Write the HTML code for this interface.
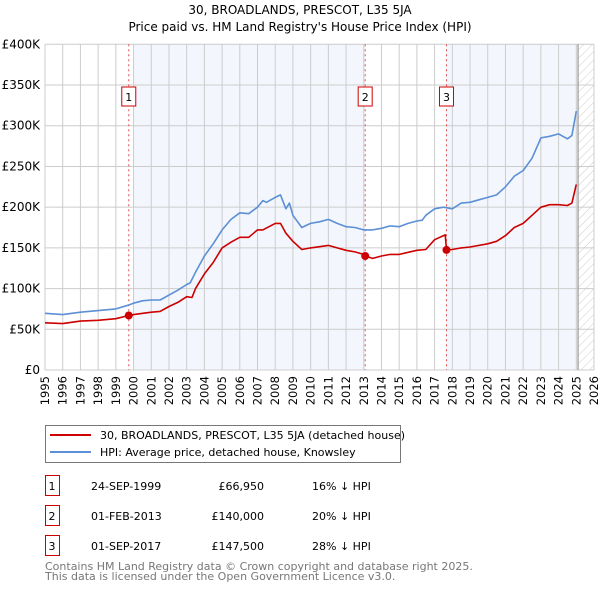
<!DOCTYPE html>
<html><head><meta charset="utf-8"><style>
body{margin:0;background:#fff;font-family:"DejaVu Sans","Liberation Sans",sans-serif}
svg text{font-family:"DejaVu Sans","Liberation Sans",sans-serif}
</style></head><body>
<svg id="chart" width="600" height="590" viewBox="0 0 600 590" xmlns="http://www.w3.org/2000/svg">
<defs><pattern id="hatch" width="6" height="6" patternUnits="userSpaceOnUse" patternTransform="rotate(45)"><line x1="0" y1="0" x2="0" y2="6" stroke="#ccc" stroke-width="1"/></pattern></defs>
<text x="300" y="14" text-anchor="middle" font-size="12">30, BROADLANDS, PRESCOT, L35 5JA</text>
<text x="300" y="31" text-anchor="middle" font-size="12">Price paid vs. HM Land Registry's House Price Index (HPI)</text>
<g id="plot"></g>
<g>
<rect x="45.5" y="425.5" width="355" height="37" fill="#fff" stroke="#777"/>
<line x1="50" y1="435" x2="91" y2="435" stroke="#cc0000" stroke-width="2"/>
<text x="100" y="439" font-size="11">30, BROADLANDS, PRESCOT, L35 5JA (detached house)</text>
<line x1="50" y1="452" x2="91" y2="452" stroke="#5b8fd6" stroke-width="2"/>
<text x="100" y="456" font-size="11">HPI: Average price, detached house, Knowsley</text>
</g>
<g id="table" font-size="11"></g>
<text x="45" y="570" font-size="11" fill="#777">Contains HM Land Registry data © Crown copyright and database right 2025.</text>
<text x="45" y="580" font-size="11" fill="#777">This data is licensed under the Open Government Licence v3.0.</text>
</svg>
<script>
const hpiYears=[1995,1996,1997,1998,1999,1999.75,2000,2000.5,2001,2001.5,2002,2002.5,2003,2003.2,2003.5,2004,2004.5,2005,2005.5,2006,2006.5,2007,2007.3,2007.5,2008,2008.3,2008.6,2008.8,2009,2009.5,2010,2010.5,2011,2011.5,2012,2012.5,2013,2013.5,2014,2014.5,2015,2015.5,2016,2016.3,2016.5,2017,2017.5,2018,2018.5,2019,2019.5,2020,2020.5,2021,2021.5,2022,2022.5,2023,2023.5,2024,2024.5,2024.75,2025];
const hpiValues=[69600,68000,71000,73000,75000,80000,82000,85000,86000,86000,92000,98000,105000,107000,120000,140000,155000,172000,185000,193000,192000,200000,208000,206000,212000,215000,198000,205000,190000,175000,180000,182000,185000,180000,176000,175000,172000,172000,174000,177000,176000,180000,183000,184000,190000,198000,200000,198000,205000,206000,209000,212000,215000,225000,238000,245000,260000,285000,287000,290000,284000,288000,318000];
const priceYears=[1995,1996,1997,1998,1999,1999.73,2000,2001,2001.5,2002,2002.5,2003,2003.3,2003.5,2004,2004.5,2005,2005.5,2006,2006.5,2007,2007.3,2008,2008.3,2008.6,2009,2009.5,2010,2011,2011.5,2012,2012.5,2013,2013.08,2013.5,2014,2014.5,2015,2016,2016.5,2017,2017.5,2017.6,2017.67,2018,2018.5,2019,2020,2020.5,2021,2021.5,2022,2022.5,2023,2023.5,2024,2024.5,2024.75,2025];
const priceValues=[58000,57000,60000,61000,63000,66950,68000,71000,72000,78000,83000,90000,89000,100000,118000,132000,150000,157000,163000,163000,172000,172000,180000,180000,168000,158000,148000,150000,153000,150000,147000,145000,142000,140000,137000,140000,142000,142000,147000,148000,160000,165000,166000,147500,148000,150000,151000,155000,158000,165000,175000,180000,190000,200000,203000,203000,202000,205000,228000];
const saleYears=[1999.73,2013.08,2017.67];
const saleValues=[66950,140000,147500];
const saleLabels=["1","2","3"];
const saleDates=["24-SEP-1999","01-FEB-2013","01-SEP-2017"];
const salePrices=["£66,950","£140,000","£147,500"];
const saleDiffs=["16% ↓ HPI","20% ↓ HPI","28% ↓ HPI"];
const yTicks=[0,50000,100000,150000,200000,250000,300000,350000,400000];
const yTickLabels=["£0","£50K","£100K","£150K","£200K","£250K","£300K","£350K","£400K"];
const xTicks=[1995,1996,1997,1998,1999,2000,2001,2002,2003,2004,2005,2006,2007,2008,2009,2010,2011,2012,2013,2014,2015,2016,2017,2018,2019,2020,2021,2022,2023,2024,2025,2026];

const NS="http://www.w3.org/2000/svg";
const X0=45,X1=594,Y0=370,Y1=44.3;
const xs=y=>X0+(y-1995)/(2026-1995)*(X1-X0);
const ys=v=>Y0-v/400000*(Y0-Y1);
const plot=document.getElementById('plot');
function mk(tag,attrs,parent){const e=document.createElementNS(NS,tag);for(const k in attrs)e.setAttribute(k,attrs[k]);(parent||plot).appendChild(e);return e;}

let r=mk('rect',{x:X0,y:Y1,width:X1-X0,height:Y0-Y1,fill:'#fff'});


r=mk('rect',{x:xs(2000),y:Y1,width:xs(2013.08)-xs(2000),height:Y0-Y1,fill:'#eef3fc',opacity:0.7});


r=mk('rect',{x:xs(2017.67),y:Y1,width:xs(2025.1)-xs(2017.67),height:Y0-Y1,fill:'#eef3fc',opacity:0.7});


r=mk('rect',{x:xs(2025.1),y:Y1,width:X1-xs(2025.1),height:Y0-Y1,fill:'url(#hatch)'});



xTicks.forEach(t=>{
  const l=mk('line',{x1:xs(t),x2:xs(t),y1:Y1,y2:Y0,stroke:'#ccc','stroke-width':1});
  
  
  const tx=mk('text',{x:0,y:0,'font-size':11.5,'text-anchor':'end',transform:`translate(${xs(t)+4},${Y0+6}) rotate(-90)`});
  tx.textContent=t;
  
  
});
yTicks.forEach((t,i)=>{
  const l=mk('line',{x1:X0,x2:X1,y1:ys(t),y2:ys(t),stroke:'#ccc','stroke-width':1});
  
  
  const tx=mk('text',{x:40,y:ys(t)+4,'font-size':12,'text-anchor':'end'});
  tx.textContent=yTickLabels[i];
  
  
});
let vl=mk('line',{x1:xs(2025.1),x2:xs(2025.1),y1:Y1,y2:Y0,stroke:'#999','stroke-width':1.2});



saleYears.forEach((sy,i)=>{
  const l=mk('line',{x1:xs(sy),x2:xs(sy),y1:Y1,y2:Y0,stroke:'#e05050','stroke-width':1,'stroke-dasharray':'2,3'});
  
  
});
function poly(xa,va,col,name){
  const p=mk('polyline',{points:xa.map((y,i)=>xs(y).toFixed(1)+','+ys(va[i]).toFixed(1)).join(' '),fill:'none',stroke:col,'stroke-width':1.6,'stroke-linejoin':'round'});
  
  
}
poly(hpiYears,hpiValues,'#5b8fd6','hpi-line');
poly(priceYears,priceValues,'#cc0000','price-paid-line');
saleYears.forEach((sy,i)=>{
  const c=mk('circle',{cx:xs(sy),cy:ys(saleValues[i]),r:4,fill:'#cc0000'});
  
  
  const b=mk('rect',{x:xs(sy)-7,y:87,width:14,height:19,fill:'#fff',stroke:'#cc0000','stroke-width':1});
  
  
  const t=mk('text',{x:xs(sy),y:101,'font-size':11,'text-anchor':'middle'});
  t.textContent=saleLabels[i];
  
  
});
const tbl=document.getElementById('table');
saleLabels.forEach((lab,i)=>{
  const yy=483+i*30;
  const b=mk('rect',{x:45.5,y:yy-7.5,width:14,height:20,fill:'#fff',stroke:'#cc0000','stroke-width':1},tbl);
  
  
  const cells=[[52,lab,'middle'],[91,saleDates[i],'start'],[264,salePrices[i],'end'],[312,saleDiffs[i],'start']];
  cells.forEach(c=>{
    const t=mk('text',{x:c[0],y:yy+7,'text-anchor':c[2],'font-size':11},tbl);
    t.textContent=c[1];
    
    
  });
});
</script>
</body></html>
